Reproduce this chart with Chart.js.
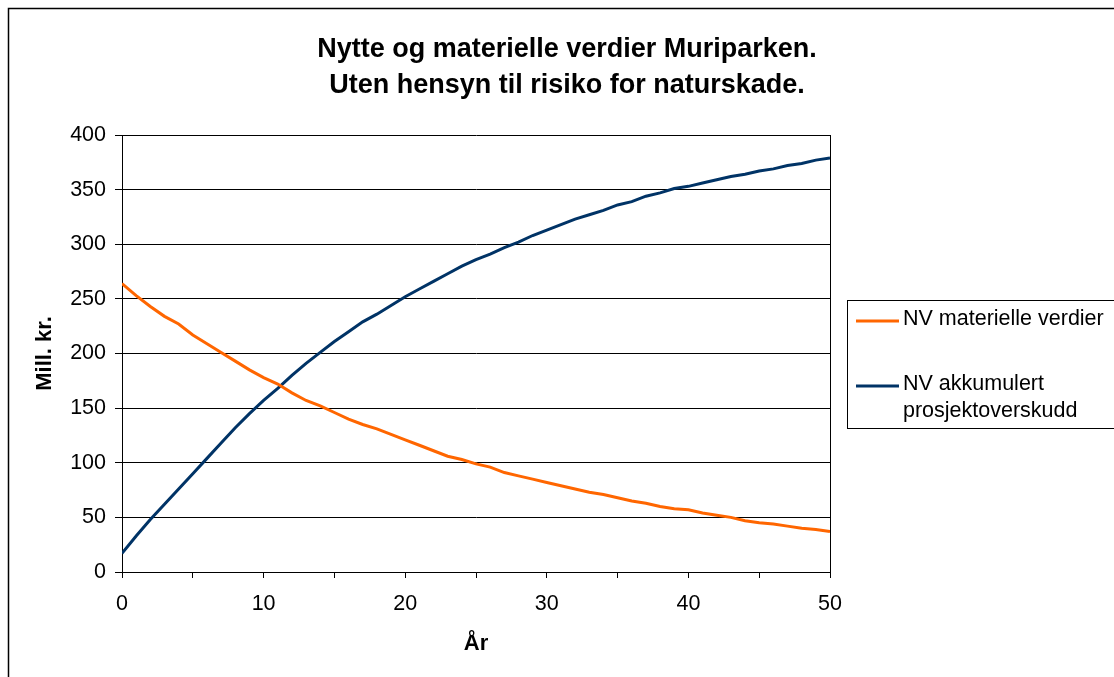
<!DOCTYPE html>
<html>
<head>
<meta charset="utf-8">
<script src="https://cdn.jsdelivr.net/npm/chart.js@4.4.1/dist/chart.umd.min.js"></script>
<style>
  html, body { margin: 0; padding: 0; background: #fff; }
  #wrap { width: 1114px; height: 677px; }
</style>
</head>
<body>
<div id="wrap"><canvas id="myChart" width="1114" height="677"></canvas></div>
<script>
// years 0..50
var years = [];
for (var i = 0; i <= 50; i++) years.push(i);

var materielle = [264, 253, 243, 234, 227, 217, 209, 201, 193, 185,
  178, 172, 164, 157, 152, 146, 140, 135, 131, 126,
  121, 116, 111, 106, 103, 99, 96, 91, 88, 85,
  82, 79, 76, 73, 71, 68, 65, 63, 60, 58,
  57, 54, 52, 50, 47, 45, 44, 42, 40, 39, 37];

var akkumulert = [17, 33, 48, 62, 76, 90, 104, 118, 132, 145,
  157, 168, 180, 191, 201, 211, 220, 229, 236, 244,
  252, 259, 266, 273, 280, 286, 291, 297, 302, 308,
  313, 318, 323, 327, 331, 336, 339, 344, 347, 351,
  353, 356, 359, 362, 364, 367, 369, 372, 374, 377, 379];

var seriesLabels = ["NV materielle verdier", ["NV akkumulert", "prosjektoverskudd"]];
var titleLines = ["Nytte og materielle verdier Muriparken.", "Uten hensyn til risiko for naturskade."];

function toPoints(vals) {
  return vals.map(function (v, i) { return { x: years[i], y: v }; });
}

Chart.defaults.font.family = "'Liberation Sans', Arial, sans-serif";
Chart.defaults.color = "#000";

// title, outer frame, plot border and legend box
var decor = {
  id: "decor",
  afterDraw: function (chart) {
    var ctx = chart.ctx;
    var a = chart.chartArea;
    ctx.save();
    // outer frame (only left and top visible)
    ctx.strokeStyle = "#000";
    ctx.lineWidth = 1.5;
    ctx.beginPath();
    ctx.moveTo(8.5, 700);
    ctx.lineTo(8.5, 8.5);
    ctx.lineTo(1120, 8.5);
    ctx.stroke();

    // plot border right
    ctx.lineWidth = 1;
    ctx.beginPath();
    ctx.moveTo(Math.round(a.right) + 0.5, a.top);
    ctx.lineTo(Math.round(a.right) + 0.5, a.bottom);
    ctx.stroke();

    // title
    ctx.fillStyle = "#000";
    ctx.font = "bold 27px 'Liberation Sans', Arial, sans-serif";
    ctx.textAlign = "center";
    ctx.textBaseline = "alphabetic";
    ctx.fillText(titleLines[0], 567, 57);
    ctx.fillText(titleLines[1], 567, 92.5);

    // legend box
    ctx.strokeStyle = "#000";
    ctx.lineWidth = 1;
    ctx.strokeRect(847.5, 300.5, 300, 128);
    var ds = chart.data.datasets;
    var rows = [321, 386];
    ctx.font = "21.5px 'Liberation Sans', Arial, sans-serif";
    ctx.textAlign = "left";
    ds.forEach(function (d, k) {
      ctx.strokeStyle = d.borderColor;
      ctx.lineWidth = 3;
      ctx.beginPath();
      ctx.moveTo(856, rows[k]);
      ctx.lineTo(899, rows[k]);
      ctx.stroke();
      var lines = Array.isArray(seriesLabels[k]) ? seriesLabels[k] : [seriesLabels[k]];
      lines.forEach(function (t, j) {
        ctx.fillText(t, 903, rows[k] + 4 + j * 27);
      });
    });
    ctx.restore();
  }
};

var ctx = document.getElementById("myChart").getContext("2d");
var myChart = new Chart(ctx, {
  type: "line",
  data: {
    datasets: [
      {
        label: "NV materielle verdier",
        data: toPoints(materielle),
        borderColor: "#FF6600",
        borderWidth: 3,
        pointRadius: 0,
        tension: 0,
        fill: false
      },
      {
        label: "NV akkumulert prosjektoverskudd",
        data: toPoints(akkumulert),
        borderColor: "#003366",
        borderWidth: 3,
        pointRadius: 0,
        tension: 0,
        fill: false
      }
    ]
  },
  options: {
    responsive: false,
    animation: false,
    devicePixelRatio: 1,
    layout: { padding: { left: 0, top: 135, right: 284, bottom: 0 } },
    plugins: {
      legend: { display: false },
      title: { display: false },
      tooltip: { enabled: false }
    },
    scales: {
      x: {
        type: "linear",
        min: 0,
        max: 50,
        afterFit: function (scale) { scale.height = 105; },
        grid: { drawOnChartArea: false, drawTicks: true, tickLength: 6, color: "#000" },
        border: { display: true, color: "#000", width: 1 },
        ticks: {
          stepSize: 5,
          padding: 13,
          maxRotation: 0,
          autoSkip: false,
          font: { size: 21.5 },
          callback: function (v) { return v % 10 === 0 ? v : ""; }
        },
        title: {
          display: true,
          text: "År",
          font: { size: 22, weight: "bold" },
          padding: { bottom: 20 }
        }
      },
      y: {
        min: 0,
        max: 400,
        afterFit: function (scale) { scale.width = 122; },
        grid: { color: "#000", tickLength: 7, lineWidth: 1 },
        border: { display: true, color: "#000", width: 1 },
        ticks: {
          stepSize: 50,
          padding: 9,
          font: { size: 21.5 }
        },
        title: {
          display: true,
          text: "Mill. kr.",
          font: { size: 22, weight: "bold" },
          padding: { top: 32 }
        }
      }
    }
  },
  plugins: [decor]
});
</script>
</body>
</html>
